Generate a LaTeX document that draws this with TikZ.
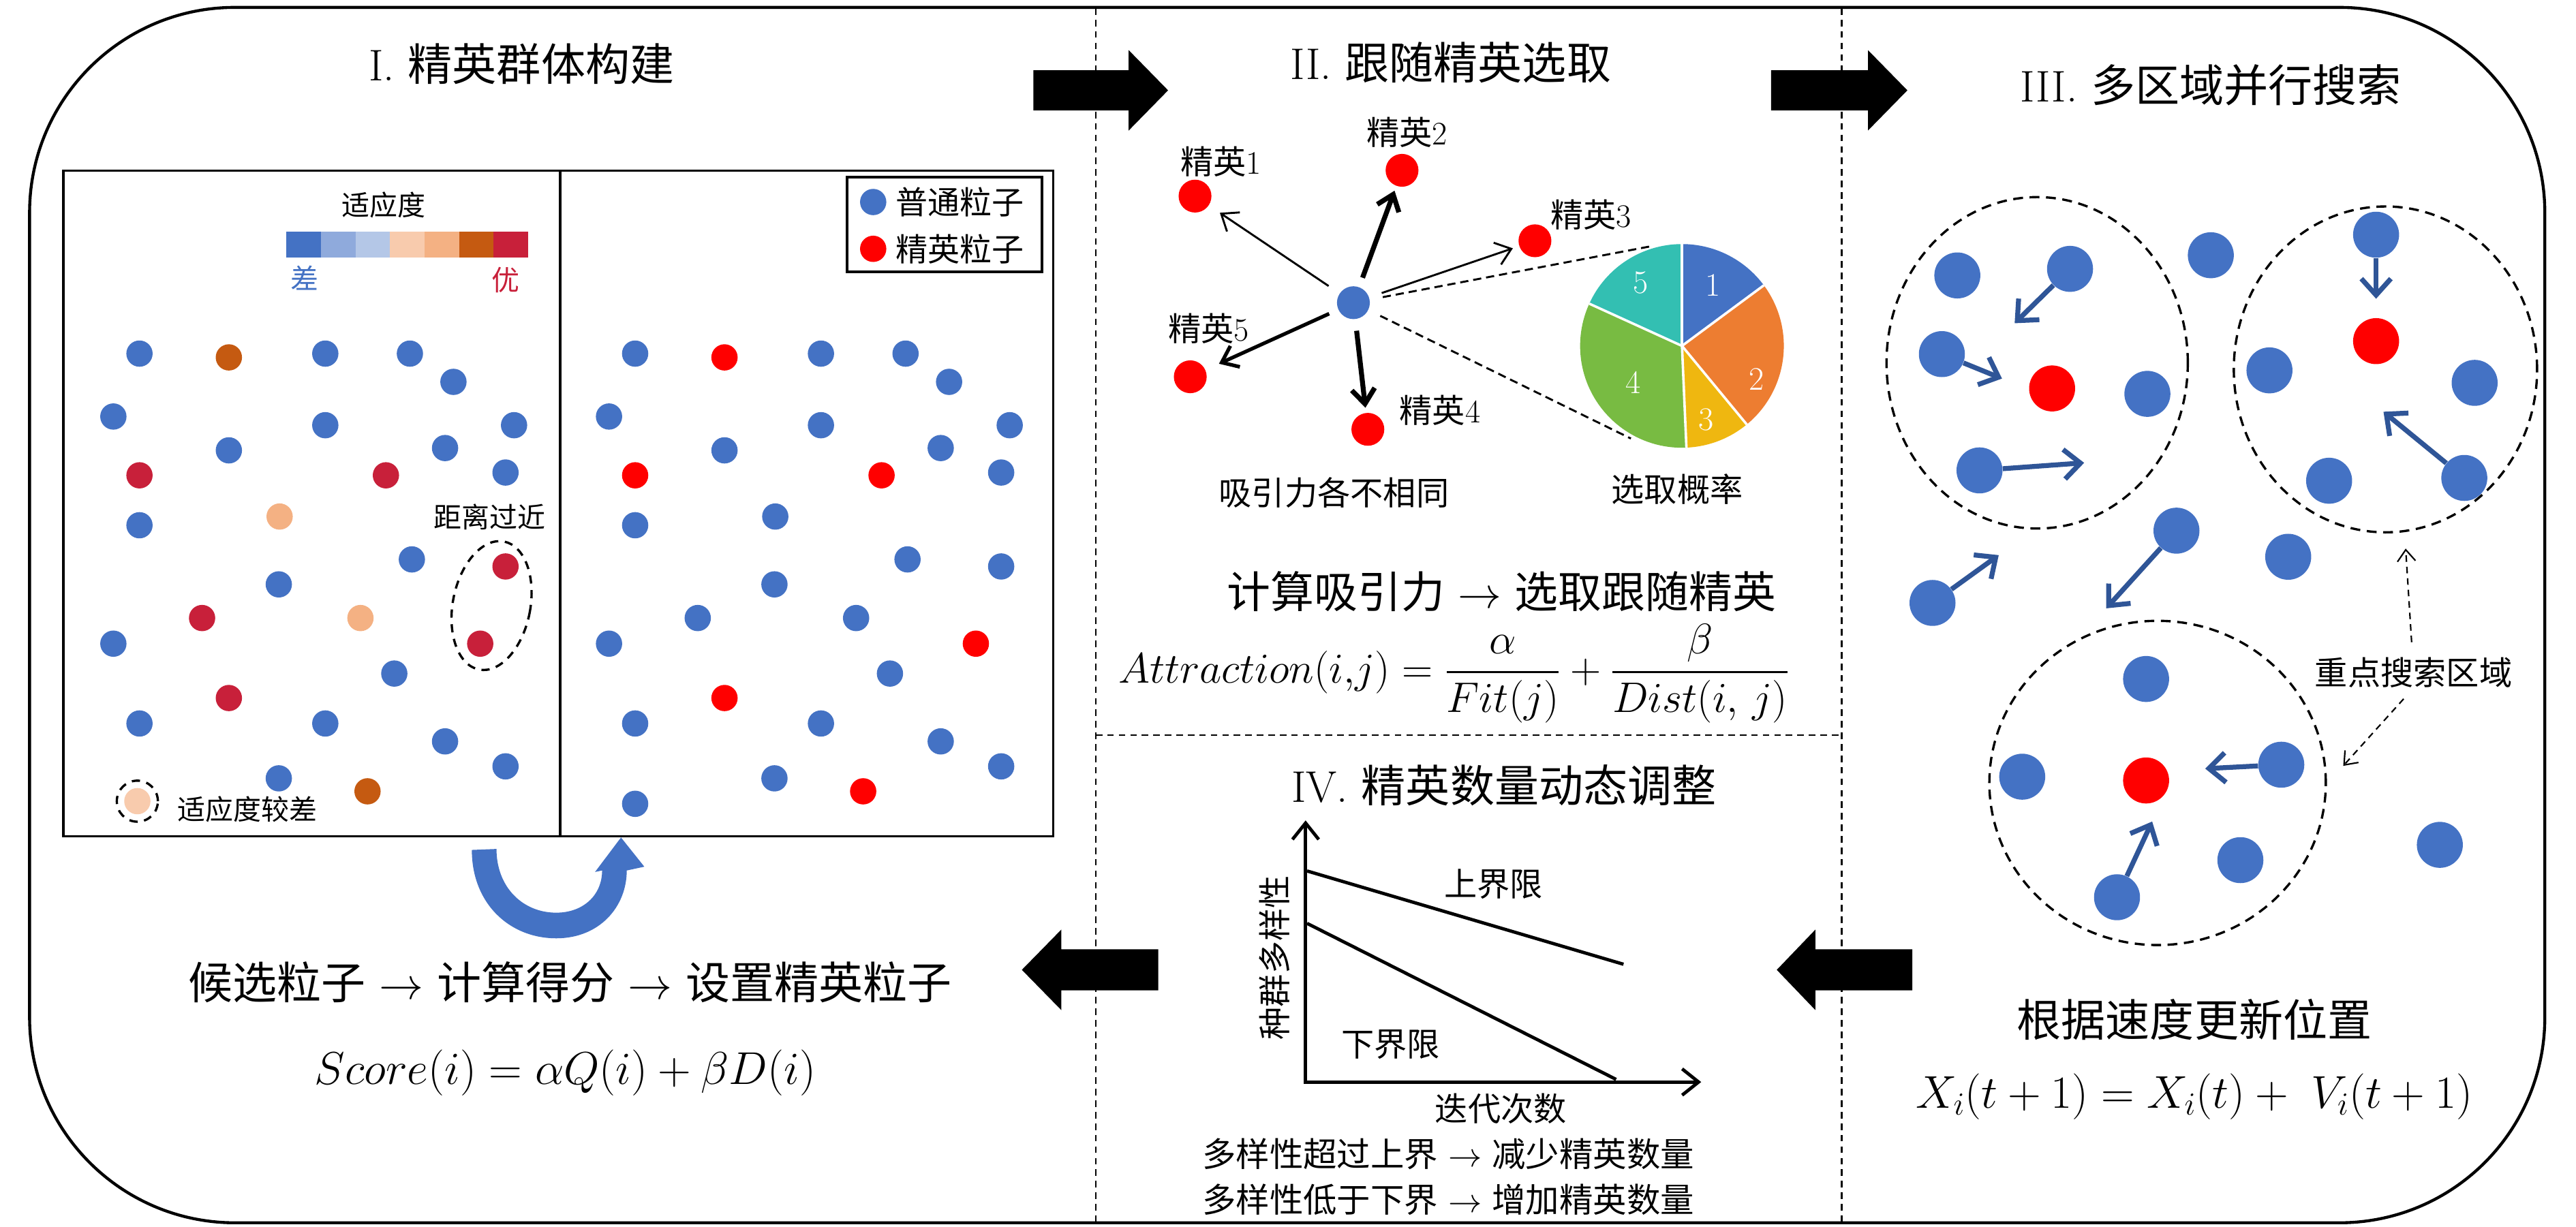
\RequirePackage{fix-cm}
\documentclass[tikz,border=0pt]{standalone}
\usepackage{amsmath}
\usepackage[no-math]{fontspec}
\newfontfamily\cjk{Noto Sans CJK SC}
\usetikzlibrary{arrows.meta}
\newcommand{\setfs}[1]{\fontsize{#1}{#1}\selectfont}
\definecolor{pblue}{HTML}{4472C4}
\definecolor{pred}{HTML}{FF0000}
\definecolor{crim}{HTML}{C8203A}
\definecolor{brn}{HTML}{C55A11}
\definecolor{peach}{HTML}{F4B183}
\definecolor{lpeach}{HTML}{F8CBAD}
\definecolor{cbtwo}{HTML}{8FAADC}
\definecolor{cbthree}{HTML}{B4C7E7}
\definecolor{darr}{HTML}{2F5597}
\definecolor{pieB}{HTML}{4472C4}
\definecolor{pieO}{HTML}{ED7D31}
\definecolor{pieY}{HTML}{EFB710}
\definecolor{pieG}{HTML}{78BB42}
\definecolor{pieT}{HTML}{33BFB2}
\tikzset{
  dot/.style={circle, inner sep=0pt, minimum size=16pt},
  dotII/.style={circle, inner sep=0pt, minimum size=20pt},
  dotIII/.style={circle, inner sep=0pt, minimum size=28pt},
  dline/.style={dash pattern=on 4pt off 3pt, line width=0.9pt},
  ttl/.style={font=\setfs{27}, inner sep=0pt},
  big/.style={font=\setfs{27}, inner sep=0pt},
  lbl/.style={font=\setfs{20}, inner sep=0pt},
  slbl/.style={font=\setfs{17}, inner sep=0pt},
  blockarrow/.style={fill=black},
  thinarr/.style={-{Straight Barb[length=9pt,width=14pt]}, line width=1.2pt},
  thickarr/.style={-{Straight Barb[length=9pt,width=14pt]}, line width=3pt},
  midarr/.style={-{Straight Barb[length=9pt,width=14pt]}, line width=2.2pt},
  varr/.style={draw=darr, -{Straight Barb[length=10pt,width=18pt]}, line width=3pt},
  dasharr/.style={-{Straight Barb[length=7pt,width=11pt]}, line width=0.9pt, dash pattern=on 4pt off 3pt},
  regionc/.style={line width=1.4pt, dash pattern=on 6pt off 4pt},
  axisarr/.style={{Straight Barb[length=10pt,width=16pt]}-{Straight Barb[length=10pt,width=16pt]}, line width=2pt},
}
\begin{document}
\begin{tikzpicture}[x=1pt,y=1pt]
\useasboundingbox (0,0) rectangle (1568,-747);

% outer frame
\draw[line width=1.8pt, rounded corners=125pt] (18,-4.5) rectangle (1549,-744.5);

% dividers
\draw[dline] (667,-5) -- (667,-744);
\draw[dline] (1121,-5) -- (1121,-744);
\draw[dline] (667,-447.5) -- (1121,-447.5);

% titles
\node[ttl] (t1) at (317.5,-39) {I. {\cjk 精英群体构建}};
\node[ttl] (t2) at (883,-38) {II. {\cjk 跟随精英选取}};
\node[ttl] (t3) at (1345.7,-52) {III. {\cjk 多区域并行搜索}};
\node[ttl] (t4) at (915.5,-478) {IV. {\cjk 精英数量动态调整}};

% block arrows
\fill[blockarrow] (629,-42.8) -- (687,-42.8) -- (687,-30.5) -- (711,-55) -- (687,-79.5) -- (687,-67.2) -- (629,-67.2) -- cycle;
\fill[blockarrow] (1078,-42.8) -- (1137,-42.8) -- (1137,-30.5) -- (1161,-55) -- (1137,-79.5) -- (1137,-67.2) -- (1078,-67.2) -- cycle;
\fill[blockarrow] (1164,-578) -- (1105,-578) -- (1105,-566) -- (1081.5,-590.5) -- (1105,-615) -- (1105,-603) -- (1164,-603) -- cycle;
\fill[blockarrow] (705,-578) -- (646,-578) -- (646,-566) -- (622,-590.5) -- (646,-615) -- (646,-603) -- (705,-603) -- cycle;

% ================= Panel I =================
\draw[line width=1.3pt] (38.6,-104) rectangle (641,-509);
\draw[line width=1.3pt] (341,-104) -- (341,-509);

% legend
\draw[line width=1.8pt] (515.6,-107.8) rectangle (634.3,-165.4);
\node[dot, fill=pblue] (lgb) at (531.5,-123) {};
\node[dot, fill=pred] (lgr) at (531.5,-151.5) {};
\node[font=\setfs{19.5}, inner sep=0pt, anchor=west] (lgbt) at (545,-123) {\cjk 普通粒子};
\node[font=\setfs{19.5}, inner sep=0pt, anchor=west] (lgrt) at (545,-151.5) {\cjk 精英粒子};

% colour bar
\node[slbl] (fit) at (233.5,-125) {\cjk 适应度};
\foreach \c [count=\i from 0] in {pblue,cbtwo,cbthree,lpeach,peach,brn,crim}
  \fill[\c] (174.4+21*\i,-141) rectangle (195.4+21*\i,-157);
\node[slbl, text=pblue] (cha) at (185.6,-169.3) {\cjk 差};
\node[slbl, text=crim] (you) at (307.7,-170.3) {\cjk 优};

% left sub-panel particles
\foreach \x/\y/\c [count=\i] in {
 84.9/215.3/pblue, 139.3/217.6/brn, 198.0/215.3/pblue, 249.5/215.3/pblue, 276.0/232.5/pblue,
 69.0/253.6/pblue, 198.0/258.9/pblue, 312.9/258.9/pblue, 139.3/274.2/pblue, 270.9/272.8/pblue,
 84.9/289.4/crim, 234.9/289.4/crim, 307.7/287.7/pblue, 84.9/319.8/pblue, 170.2/314.5/peach,
 250.7/340.6/pblue, 307.7/344.9/crim, 169.7/355.8/pblue, 123.0/376.3/crim, 219.4/376.3/peach,
 69.0/391.9/pblue, 292.3/391.9/crim, 240.0/410.1/pblue, 139.3/425.0/crim, 84.9/440.5/pblue,
 198.0/440.5/pblue, 270.9/451.4/pblue, 307.7/466.6/pblue, 169.7/473.9/pblue, 223.7/481.8/brn}
  \node[dot, fill=\c] (L\i) at (\x,-\y) {};

\draw[line width=1.4pt, dash pattern=on 5pt off 4pt, rotate around={-11:(299.2,-368.7)}] (299.2,-368.7) ellipse [x radius=23.6, y radius=39.7];
\node[slbl] (close) at (297.9,-314.8) {\cjk 距离过近};

\node[dot, fill=lpeach] (Lp) at (83.6,-487.8) {};
\draw[line width=1.4pt, dash pattern=on 5pt off 4pt] (83.6,-487.8) circle [radius=12.5];
\node[slbl] (poor) at (150.5,-492.7) {\cjk 适应度较差};

% right sub-panel particles
\foreach \x/\y/\c [count=\i] in {
 84.9/215.3/pblue, 139.3/217.6/pred, 198.0/215.3/pblue, 249.5/215.3/pblue, 276.0/232.5/pblue,
 69.0/253.6/pblue, 198.0/258.9/pblue, 312.9/258.9/pblue, 139.3/274.2/pblue, 270.9/272.8/pblue,
 84.9/289.4/pred, 234.9/289.4/pred, 307.7/287.7/pblue, 84.9/319.8/pblue, 170.2/314.5/pblue,
 250.7/340.6/pblue, 307.7/344.9/pblue, 169.7/355.8/pblue, 123.0/376.3/pblue, 219.4/376.3/pblue,
 69.0/391.9/pblue, 292.3/391.9/pred, 240.0/410.1/pblue, 139.3/425.0/pred, 84.9/440.5/pblue,
 198.0/440.5/pblue, 270.9/451.4/pblue, 307.7/466.6/pblue, 169.7/473.9/pblue, 223.7/481.8/pred,
 84.9/489.4/pblue}
  \node[dot, fill=\c] (R\i) at (\x+301.7,-\y) {};

% U-turn arrow
\fill[pblue] (287.2,-517.5) .. controls (287.2,-550) and (310,-571.3) .. (338.6,-571.3)
  .. controls (365,-571.3) and (381.5,-552) .. (381.5,-530)
  -- (392.2,-527.7) -- (378,-509.9) -- (362.2,-530.9) -- (366.5,-530)
  .. controls (366.5,-545) and (355,-555.7) .. (338.6,-555.7)
  .. controls (318,-555.7) and (302.2,-540) .. (302.2,-516.9) -- cycle;

\node[big] (flow1) at (347,-598) {{\cjk 候选粒子} $\rightarrow$ {\cjk 计算得分} $\rightarrow$ {\cjk 设置精英粒子}};
\node[font=\setfs{28}, inner sep=0pt] (score) at (344,-653) {$Score(i) = \alpha Q(i) + \beta D(i)$};

% ================= Panel II =================
\node[dotII, fill=pblue] (c0) at (823.8,-184.3) {};
\node[dotII, fill=pred] (e1) at (727.4,-119.4) {};
\node[dotII, fill=pred] (e2) at (853.4,-103.7) {};
\node[dotII, fill=pred] (e3) at (934.3,-146.6) {};
\node[dotII, fill=pred] (e4) at (832.6,-261.4) {};
\node[dotII, fill=pred] (e5) at (724.5,-229.4) {};
\node[lbl] (le1) at (743.1,-98.6) {{\cjk 精英}1};
\node[lbl] (le2) at (856.4,-80.6) {{\cjk 精英}2};
\node[lbl] (le3) at (968.4,-130.9) {{\cjk 精英}3};
\node[lbl] (le4) at (876.5,-250) {{\cjk 精英}4};
\node[lbl] (le5) at (735.7,-200) {{\cjk 精英}5};

\draw[thinarr, shorten <=8pt, shorten >=8pt] (c0) -- (e1);
\draw[thickarr, shorten <=6pt, shorten >=3pt] (c0) -- (e2);
\draw[thinarr, shorten <=8pt, shorten >=4pt] (c0) -- (e3);
\draw[thickarr, shorten <=7pt, shorten >=3pt] (c0) -- (e4);
\draw[midarr, shorten <=6pt, shorten >=9pt] (c0) -- (e5);

% pie chart
\coordinate (pc) at (1023.8,-210.6);
\fill[pieB] (pc) -- ++(90:62) arc[start angle=90, end angle=36.5, radius=62] -- cycle;
\fill[pieO] (pc) -- ++(36.5:62) arc[start angle=36.5, end angle=-50.5, radius=62] -- cycle;
\fill[pieY] (pc) -- ++(-50.5:62) arc[start angle=-50.5, end angle=-87.5, radius=62] -- cycle;
\fill[pieG] (pc) -- ++(-87.5:62) arc[start angle=-87.5, end angle=-204.5, radius=62] -- cycle;
\fill[pieT] (pc) -- ++(-204.5:62) arc[start angle=-204.5, end angle=-270, radius=62] -- cycle;
\foreach \a in {90,36.5,-50.5,-87.5,-204.5}
  \draw[white, line width=1.5pt] (pc) -- ++(\a:62);
\node[lbl, text=white] (p1) at (1042.5,-173.7) {1};
\node[lbl, text=white] (p2) at (1069.2,-230.8) {2};
\node[lbl, text=white] (p3) at (1038.7,-255.7) {3};
\node[lbl, text=white] (p4) at (994.2,-232.8) {4};
\node[lbl, text=white] (p5) at (998.6,-172.3) {5};
\coordinate (pt1) at (1004.6,-150);
\coordinate (pt2) at (992.7,-267);
\draw[line width=1.2pt, dash pattern=on 5pt off 3pt, shorten <=8pt] (c0) -- (pt1);
\draw[line width=1.2pt, dash pattern=on 5pt off 3pt, shorten <=8pt] (c0) -- (pt2);

\node[lbl] (attr) at (812,-300) {\cjk 吸引力各不相同};
\node[lbl] (prob) at (1020.9,-298) {\cjk 选取概率};

\node[font=\setfs{26.5}, inner sep=0pt] (flow2) at (914,-360) {{\cjk 计算吸引力} $\rightarrow$ {\cjk 选取跟随精英}};
\node[font=\setfs{26}, inner sep=0pt] (attrf) at (885,-410) {$\displaystyle Attraction(i{,}j) = \frac{\alpha}{Fit(j)} + \frac{\beta}{Dist(i,\,j)}$};

% ================= Panel III =================
\draw[regionc] (1240,-220.9) ellipse [x radius=91.7, y radius=100.9];
\draw[regionc] (1452,-224.9) ellipse [x radius=92.3, y radius=99.2];
\draw[regionc] (1313.3,-476.7) ellipse [x radius=102.4, y radius=98.7];

\foreach \x/\y/\c [count=\i] in {
 1191.4/167.7/pblue, 1260/163.7/pblue, 1182/215.6/pblue, 1249.1/236.5/pred, 1307.1/239.8/pblue,
 1204.9/286.4/pblue, 1345.7/155.4/pblue, 1324.8/323.1/pblue, 1392.8/339/pblue, 1176.3/367.1/pblue,
 1446.3/142.9/pblue, 1446.3/207.7/pred, 1381.4/225.5/pblue, 1506.3/233.1/pblue, 1417.7/292.7/pblue,
 1500/291/pblue, 1306.3/413.4/pblue, 1230.9/472.9/pblue, 1306.3/475.2/pred, 1388.6/465.6/pblue,
 1288.6/546.3/pblue, 1363.7/523.7/pblue, 1485.1/514.4/pblue}
  \node[dotIII, fill=\c] (S\i) at (\x,-\y) {};

\coordinate (v1) at (1226.3,-196.8);
\coordinate (v2) at (1218.6,-230.5);
\coordinate (v3) at (1268.6,-281.8);
\coordinate (v4) at (1282,-370.4);
\coordinate (v5) at (1216.6,-338);
\coordinate (v6) at (1446.3,-181.9);
\coordinate (v7) at (1450.8,-250.7);
\coordinate (v8) at (1342.3,-468);
\coordinate (v9) at (1310,-500.2);
\draw[varr] (S2) -- (v1);
\draw[varr] (S3) -- (v2);
\draw[varr] (S6) -- (v3);
\draw[varr] (S8) -- (v4);
\draw[varr] (S10) -- (v5);
\draw[varr] (S11) -- (v6);
\draw[varr] (S16) -- (v7);
\draw[varr] (S20) -- (v8);
\draw[varr] (S21) -- (v9);

\node[lbl] (focus) at (1469.1,-409.4) {\cjk 重点搜索区域};
\coordinate (f1) at (1464.3,-334);
\coordinate (f2) at (1426.3,-466.3);
\draw[dasharr, shorten <=9pt] (focus) -- (f1);
\draw[dasharr, shorten <=9pt] (focus.south) -- (f2);

\node[big] (upd) at (1335.7,-620.6) {\cjk 根据速度更新位置};
\node[font=\setfs{28}, inner sep=0pt] (xf) at (1335.7,-667.5) {$X_i(t+1) = X_i(t) +\; V_i(t+1)$};

% ================= Panel IV =================
\coordinate (O) at (794.7,-658.8);
\coordinate (ytop) at (794.7,-499.5);
\coordinate (xend) at (1035.5,-658.8);
\draw[axisarr] (ytop) -- (O) -- (xend);
\coordinate (u1) at (795.6,-530.3);
\coordinate (u2) at (988.2,-587.1);
\coordinate (l1) at (795.6,-562.2);
\coordinate (l2) at (983.7,-657.2);
\draw[line width=2pt] (u1) -- (u2);
\draw[line width=2pt] (l1) -- (l2);
\node[lbl] (ub) at (909,-538.3) {\cjk 上界限};
\node[lbl] (lb) at (846.5,-635.9) {\cjk 下界限};
\node[lbl, rotate=90] (ylab) at (775.7,-583.1) {\cjk 种群多样性};
\node[lbl] (xlab) at (913.5,-674.8) {\cjk 迭代次数};
\node[font=\setfs{20.5}, inner sep=0pt] (r1) at (881.5,-702.7) {{\cjk 多样性超过上界} $\rightarrow$ {\cjk 减少精英数量}};
\node[font=\setfs{20.5}, inner sep=0pt] (r2) at (881.5,-730.5) {{\cjk 多样性低于下界} $\rightarrow$ {\cjk 增加精英数量}};

\end{tikzpicture}
\end{document}
